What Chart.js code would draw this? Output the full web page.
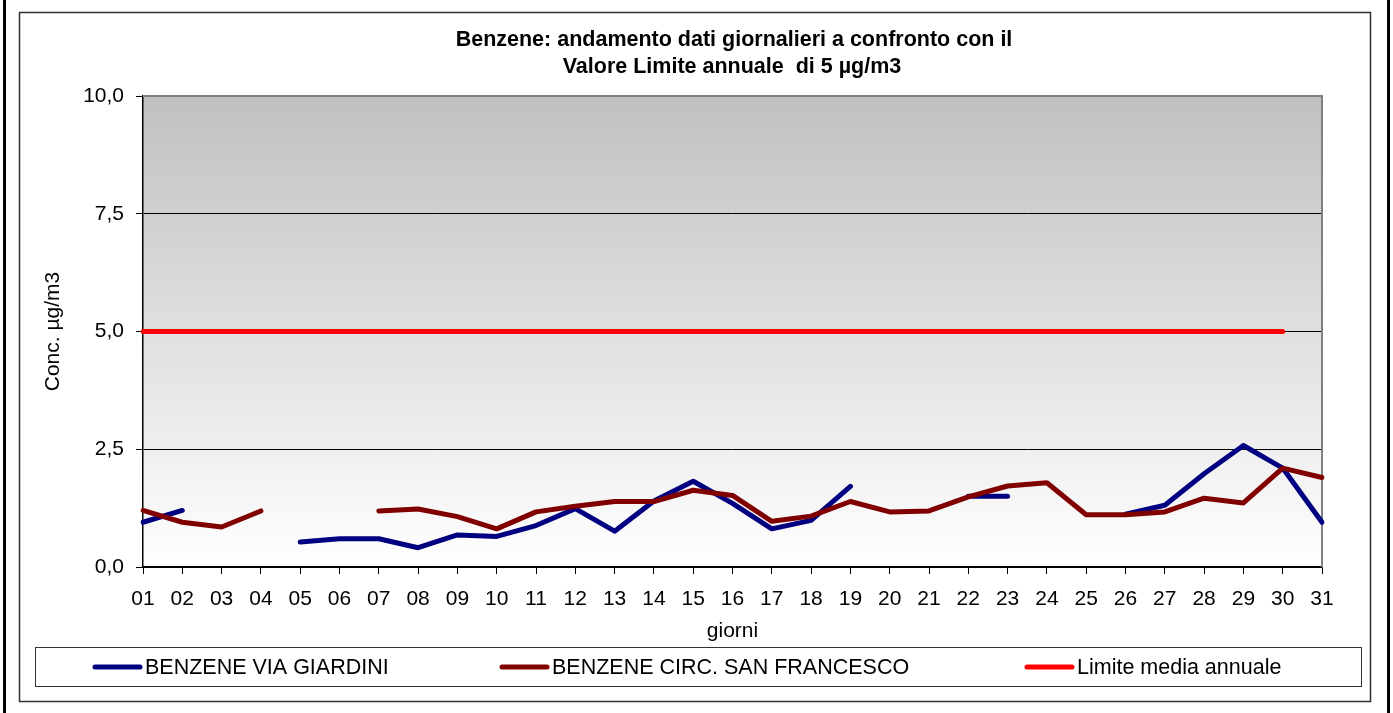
<!DOCTYPE html>
<html>
<head>
<meta charset="utf-8">
<script src="https://cdn.jsdelivr.net/npm/chart.js@4/dist/chart.umd.min.js"></script>
<style>
  html, body { margin: 0; padding: 0; background: #fff; }
  #wrap { width: 1393px; height: 713px; }
</style>
</head>
<body>
<div id="wrap"><canvas id="grafico" width="1393" height="713"></canvas></div>
<script>
// dati
const giorni = ['01','02','03','04','05','06','07','08','09','10','11','12','13','14','15','16',
                '17','18','19','20','21','22','23','24','25','26','27','28','29','30','31'];
const viaGiardini = [0.95, 1.2, null, null, 0.53, 0.6, 0.6, 0.41, 0.68, 0.65, 0.88, 1.24, 0.76, 1.4, 1.82, 1.35,
                     0.81, 0.99, 1.71, null, null, 1.5, 1.5, null, null, 1.12, 1.31, 1.98, 2.58, 2.1, 0.95];
const sanFrancesco = [1.2, 0.95, 0.85, 1.19, null, null, 1.19, 1.23, 1.07, 0.81, 1.17, 1.29, 1.39, 1.39, 1.63, 1.52,
                      0.97, 1.08, 1.39, 1.17, 1.19, 1.49, 1.72, 1.79, 1.11, 1.11, 1.17, 1.46, 1.36, 2.1, 1.9];
const limiteMedia = [5, 5, 5, 5, 5, 5, 5, 5, 5, 5, 5, 5, 5, 5, 5, 5,
                     5, 5, 5, 5, 5, 5, 5, 5, 5, 5, 5, 5, 5, 5, null];
const yTickLabels = ['0,0', '2,5', '5,0', '7,5', '10,0'];
const nomiSerie = ['BENZENE VIA GIARDINI', 'BENZENE CIRC. SAN FRANCESCO', 'Limite media annuale'];
const titolo = ['Benzene: andamento dati giornalieri a confronto con il', 'Valore Limite annuale  di 5 µg/m3'];

const FONT = "'Liberation Sans', Arial, sans-serif";
Chart.defaults.font.family = FONT;
Chart.defaults.font.size = 21;
Chart.defaults.color = '#000';

// sfondo, cornici, titolo e legenda
const cornice = {
    id: 'cornice',
    beforeDraw(chart) {
        const ctx = chart.ctx;
        const a = chart.chartArea;
        ctx.save();
        ctx.fillStyle = '#fff';
        ctx.fillRect(0, 0, chart.width, chart.height);
        // bordi esterni
        ctx.fillStyle = '#000';
        ctx.fillRect(3, 0, 3, chart.height);
        ctx.fillRect(1387, 0, 3, chart.height);
        // bordo area grafico
        ctx.strokeStyle = '#333';
        ctx.lineWidth = 1.5;
        ctx.strokeRect(19.5, 12.5, 1351, 689);
        // sfondo area del tracciato
        const grad = ctx.createLinearGradient(0, a.top, 0, a.bottom);
        grad.addColorStop(0, '#c0c0c0');
        grad.addColorStop(1, '#ffffff');
        ctx.fillStyle = grad;
        ctx.fillRect(a.left, a.top, a.right - a.left, a.bottom - a.top);
        ctx.restore();
    },
    beforeDatasetsDraw(chart) {
        const ctx = chart.ctx;
        const a = chart.chartArea;
        ctx.save();
        ctx.strokeStyle = '#808080';
        ctx.lineWidth = 2;
        ctx.beginPath();
        ctx.moveTo(a.left, a.top);
        ctx.lineTo(a.right, a.top);
        ctx.lineTo(a.right, a.bottom);
        ctx.stroke();
        ctx.restore();
    },
    afterDraw(chart) {
        const ctx = chart.ctx;
        ctx.save();
        // titolo
        ctx.fillStyle = '#000';
        ctx.font = 'bold 21.5px ' + FONT;
        ctx.textAlign = 'center';
        ctx.textBaseline = 'alphabetic';
        ctx.fillText(titolo[0], 734, 46);
        ctx.fillText(titolo[1], 732, 73);
        // legenda
        ctx.strokeStyle = '#333';
        ctx.lineWidth = 1;
        ctx.strokeRect(35.5, 647.5, 1326, 39);
        const startX = [93, 500, 1025];
        ctx.font = '21.5px ' + FONT;
        ctx.textAlign = 'left';
        ctx.textBaseline = 'middle';
        chart.data.datasets.forEach((ds, i) => {
            const x = startX[i];
            ctx.strokeStyle = ds.borderColor;
            ctx.lineWidth = 5;
            ctx.lineCap = 'round';
            ctx.beginPath();
            ctx.moveTo(x + 2, 667);
            ctx.lineTo(x + 47, 667);
            ctx.stroke();
            ctx.fillStyle = '#000';
            ctx.fillText(ds.label, x + 52, 668);
        });
        ctx.restore();
    }
};

const ctx = document.getElementById('grafico').getContext('2d');
const grafico = new Chart(ctx, {
    type: 'line',
    data: {
        labels: giorni,
        datasets: [{
            label: nomiSerie[0],
            data: viaGiardini,
            borderColor: '#000080',
            order: 2
        }, {
            label: nomiSerie[1],
            data: sanFrancesco,
            borderColor: '#800000',
            order: 1
        }, {
            label: nomiSerie[2],
            data: limiteMedia,
            borderColor: '#ff0000',
            order: 0
        }]
    },
    options: {
        responsive: false,
        animation: false,
        events: [],
        layout: { padding: { left: 0, right: 71, top: 96, bottom: 66 } },
        elements: {
            line: { borderWidth: 5, tension: 0, borderCapStyle: 'round', borderJoinStyle: 'round', fill: false },
            point: { radius: 0 }
        },
        spanGaps: false,
        plugins: {
            legend: { display: false },
            title: { display: false },
            tooltip: { enabled: false }
        },
        scales: {
            x: {
                offset: false,
                grid: { drawOnChartArea: false, drawTicks: true, tickLength: 7, color: '#000', offset: false },
                border: { color: '#000', width: 1.5 },
                ticks: { padding: 13, maxRotation: 0, autoSkip: false, font: { size: 21 } },
                title: { display: true, text: 'giorni', font: { size: 21 }, padding: { top: 0, bottom: 3 } },
                afterFit(scale) {
                    scale.height = 80;
                    scale.paddingLeft = 0;
                    scale.paddingRight = 0;
                }
            },
            y: {
                min: 0,
                max: 10,
                ticks: {
                    stepSize: 2.5,
                    padding: 12,
                    font: { size: 21 },
                    callback: (v, i) => yTickLabels[i]
                },
                grid: {
                    color: c => (c.tick && c.tick.value === 10) ? 'rgba(0,0,0,0)' : '#000',
                    lineWidth: 1,
                    tickColor: '#000',
                    tickWidth: 1,
                    tickLength: 7
                },
                border: { color: '#000', width: 1.5 },
                title: { display: true, text: 'Conc. µg/m3', font: { size: 21 }, padding: { top: 41, bottom: 0 } },
                afterFit(scale) {
                    scale.width = 143;
                    scale.paddingTop = 0;
                    scale.paddingBottom = 0;
                }
            }
        }
    },
    plugins: [cornice]
});
</script>
</body>
</html>
